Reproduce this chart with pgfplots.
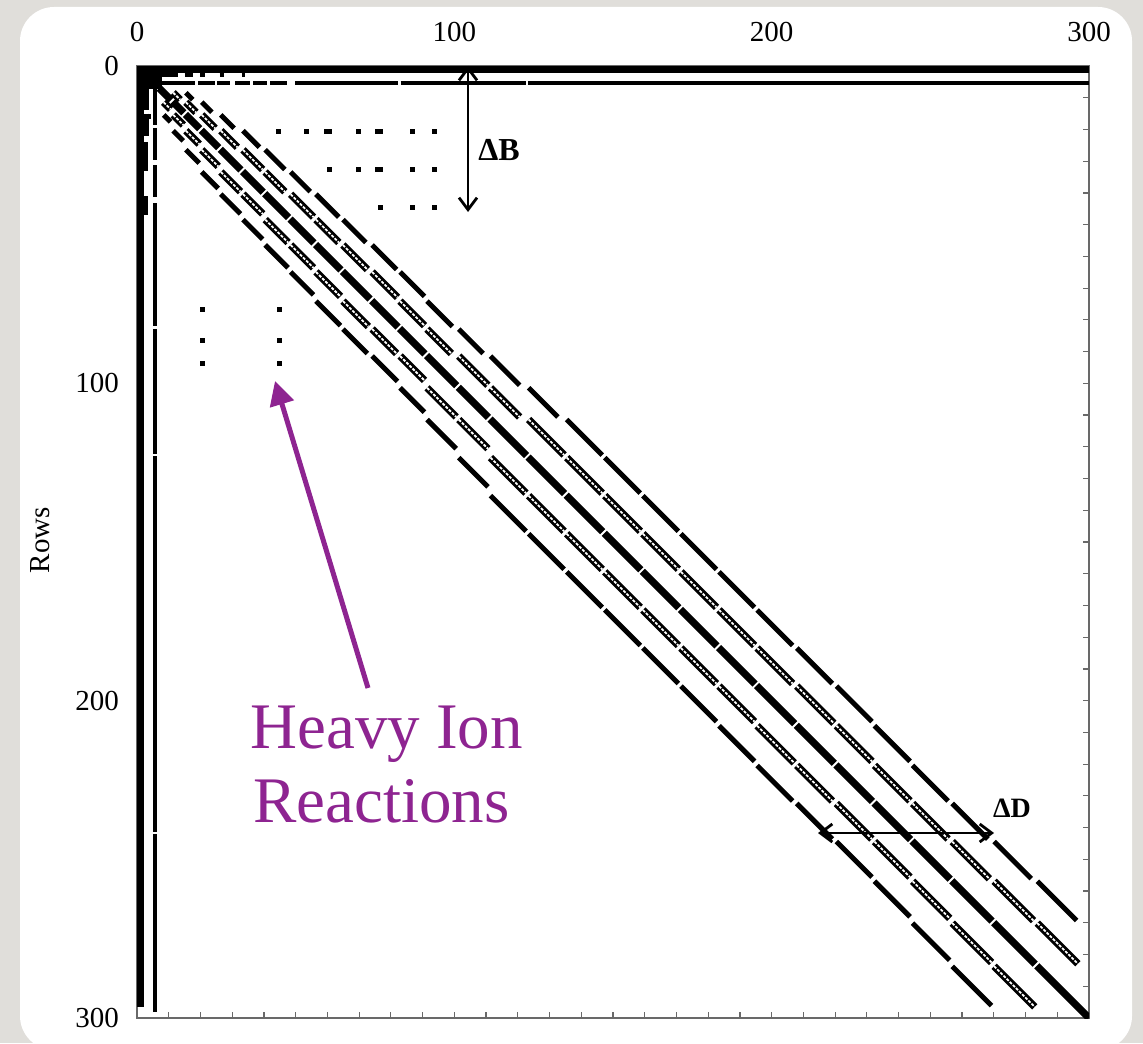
\documentclass[border=0pt]{standalone}
\usepackage{fontspec}
\setmainfont{Liberation Serif}
\usepackage{pgfplots}
\pgfplotsset{compat=1.18}
\usepackage{pgfplotstable}
\usetikzlibrary{arrows.meta}
\definecolor{bggray}{RGB}{224,222,218}
\definecolor{ionpurple}{RGB}{142,36,145}
\definecolor{framegray}{RGB}{105,105,105}

% upper off-diagonal blocks (k,k+1): hollow double diagonal
\pgfplotstableread{
c r
11.4 8.4
13.6 10.6
nan nan
15.4 11.4
18.6 14.6
nan nan
20.4 15.4
24.6 19.6
nan nan
26.4 20.4
31.6 25.6
nan nan
33.4 26.4
39.6 32.6
nan nan
40.4 33.4
46.6 39.6
nan nan
48.4 40.4
55.6 47.6
nan nan
56.4 48.4
63.6 55.6
nan nan
64.9 56.4
72.6 64.1
nan nan
74.1 64.9
82.1 72.9
nan nan
82.9 74.1
90.6 81.8
nan nan
91.4 82.9
99.1 90.6
nan nan
101.4 91.4
110.6 100.6
nan nan
111.4 101.4
120.6 110.6
nan nan
123.4 111.4
134.6 122.6
nan nan
135.4 123.4
146.6 134.6
nan nan
147.4 135.4
158.6 146.6
nan nan
159.4 147.4
170.6 158.6
nan nan
171.4 159.4
182.6 170.6
nan nan
183.4 171.4
194.6 182.6
nan nan
195.4 183.4
206.6 194.6
nan nan
207.9 195.4
219.6 207.1
nan nan
220.4 207.9
231.6 219.1
nan nan
232.4 220.4
243.6 231.6
nan nan
244.4 232.4
255.6 243.6
nan nan
256.9 244.4
268.6 256.1
nan nan
270.1 256.9
282.5 269.3
nan nan
283.7 270.1
296.5 282.9
}\hollowtab

% blocks (k,k+2): solid diagonal
\pgfplotstableread{
c r
15.4 8.4
17.6 10.6
nan nan
20.4 11.4
23.6 14.6
nan nan
26.4 15.4
30.6 19.6
nan nan
33.4 20.4
38.6 25.6
nan nan
40.4 26.4
46.6 32.6
nan nan
48.4 33.4
54.6 39.6
nan nan
56.4 40.4
63.6 47.6
nan nan
64.9 48.4
72.1 55.6
nan nan
74.1 56.4
81.8 64.1
nan nan
82.9 64.9
90.6 72.6
nan nan
91.4 74.1
99.4 82.1
nan nan
101.4 82.9
109.1 90.6
nan nan
111.4 91.4
120.6 100.6
nan nan
123.4 101.4
132.6 110.6
nan nan
135.4 111.4
146.6 122.6
nan nan
147.4 123.4
158.6 134.6
nan nan
159.4 135.4
170.6 146.6
nan nan
171.4 147.4
182.6 158.6
nan nan
183.4 159.4
194.6 170.6
nan nan
195.4 171.4
206.6 182.6
nan nan
207.9 183.4
219.1 194.6
nan nan
220.4 195.4
231.6 206.6
nan nan
232.4 207.9
243.6 219.1
nan nan
244.4 220.4
255.6 231.6
nan nan
256.9 232.4
268.1 243.6
nan nan
270.1 244.4
281.8 256.1
nan nan
283.7 256.9
296.1 269.3
}\solidtab

% diagonal blocks
\pgfplotstableread{
c r
7.0 7.0
10.75 10.75
nan nan
11.25 11.25
14.75 14.75
nan nan
15.25 15.25
19.75 19.75
nan nan
20.25 20.25
25.75 25.75
nan nan
26.25 26.25
32.75 32.75
nan nan
33.25 33.25
39.75 39.75
nan nan
40.25 40.25
47.75 47.75
nan nan
48.25 48.25
55.75 55.75
nan nan
56.25 56.25
64.25 64.25
nan nan
64.75 64.75
73.45 73.45
nan nan
73.95 73.95
82.25 82.25
nan nan
82.75 82.75
90.75 90.75
nan nan
91.25 91.25
100.75 100.75
nan nan
101.25 101.25
110.75 110.75
nan nan
111.25 111.25
122.75 122.75
nan nan
123.25 123.25
134.75 134.75
nan nan
135.25 135.25
146.75 146.75
nan nan
147.25 147.25
158.75 158.75
nan nan
159.25 159.25
170.75 170.75
nan nan
171.25 171.25
182.75 182.75
nan nan
183.25 183.25
194.75 194.75
nan nan
195.25 195.25
207.25 207.25
nan nan
207.75 207.75
219.75 219.75
nan nan
220.25 220.25
231.75 231.75
nan nan
232.25 232.25
243.75 243.75
nan nan
244.25 244.25
256.25 256.25
nan nan
256.75 256.75
269.45 269.45
nan nan
269.95 269.95
283.05 283.05
nan nan
283.55 283.55
300 300
}\maintab

\begin{document}
\begin{tikzpicture}
\path[use as bounding box] (0pt,0pt) rectangle (571.5pt,-521.5pt);
\begin{scope}[x=0.5pt,y=-0.5pt]
\fill[bggray] (0,0) rectangle (1143,1043);
\fill[white, rounded corners=17pt] (20,7) rectangle (1132,1050);
\end{scope}
\begin{axis}[
  at={(68.5pt,-33pt)}, anchor=north west,
  width=476pt, height=476pt, scale only axis,
  xmin=0, xmax=300, ymin=0, ymax=300, y dir=reverse,
  xtick={0,100,200,300}, ytick={0,100,200,300},
  xticklabels={0,100,200,300}, yticklabels={0,100,200,300},
  minor x tick num=9, minor y tick num=9,
  tick align=inside, tick pos=both,
  xticklabel pos=right,
  major tick length=3pt, minor tick length=3pt,
  tick style={framegray, line width=0.6pt},
  axis line style={framegray, line width=0.7pt},
  ticklabel style={font=\fontsize{14.5}{17}\selectfont, text=black},
  xticklabel style={yshift=8.5pt},
  yticklabel style={xshift=-5.5pt},
  unbounded coords=jump,
]
% global rows / columns
\addplot[black, line width=3.4pt] coordinates {(0,1.05) (300,1.05)};
\addplot[black, line width=11.4pt] coordinates {(0,3.6) (8,3.6)};
\addplot[black, line width=1.8pt] coordinates {
 (8,2.9) (13,2.9) (nan,nan) (15,2.9) (17.5,2.9) (nan,nan) (20,2.9) (21.5,2.9) (nan,nan)
 (26,2.9) (27.5,2.9) (nan,nan) (33,2.9) (34,2.9)};
\addplot[black, line width=2.0pt] coordinates {
 (8,5.45) (18.3,5.45) (nan,nan) (19.3,5.45) (24.6,5.45) (nan,nan)
 (25.3,5.45) (29.3,5.45) (nan,nan) (31,5.45) (35.6,5.45) (nan,nan)
 (36.6,5.45) (41,5.45) (nan,nan) (42,5.45) (47.3,5.45) (nan,nan)
 (49.8,5.45) (82.3,5.45) (nan,nan) (83.1,5.45) (122.5,5.45) (nan,nan)
 (123.2,5.45) (300,5.45)};
\addplot[black, line width=3.65pt] coordinates {(1.15,0) (1.15,296.5)};
\addplot[black, line width=6pt] coordinates {(1.9,7) (1.9,14) (nan,nan) (1.9,15) (1.9,22) (nan,nan) (1.6,24) (1.6,33) (nan,nan) (1.6,41) (1.6,47)};
\addplot[black, line width=2.1pt] coordinates {
 (5.65,6) (5.65,18.6) (nan,nan) (5.65,19.5) (5.65,29.6) (nan,nan)
 (5.65,31.2) (5.65,41.3) (nan,nan) (5.65,43.2) (5.65,82) (nan,nan)
 (5.65,82.8) (5.65,122.3) (nan,nan) (5.65,123) (5.65,241.3) (nan,nan)
 (5.65,242) (5.65,298)};
% band structure
\addplot[black, line width=3.7pt] table[x=c, y=r] {\maintab};
\addplot[black, line width=2.5pt] table[x=c, y=r] {\solidtab};
\addplot[black, line width=2.5pt] table[x=r, y=c] {\solidtab};
\addplot[black, line width=3.7pt] table[x=c, y=r] {\hollowtab};
\addplot[black, line width=3.7pt] table[x=r, y=c] {\hollowtab};
\addplot[white, line width=0.9pt, dash pattern=on 1.5pt off 0.7pt] table[x=c, y=r] {\hollowtab};
\addplot[white, line width=0.9pt, dash pattern=on 1.5pt off 0.7pt] table[x=r, y=c] {\hollowtab};
% isolated heavy-ion couplings
\addplot[only marks, mark=square*, mark size=1pt, black] coordinates {
 (44.7,20.5) (53.5,20.5) (59.7,20.5) (60.7,20.5) (69.7,20.5) (75.8,20.5) (76.8,20.5) (86.8,20.5) (93.7,20.5)
 (60.6,32.6) (69.7,32.6) (75.8,32.6) (76.8,32.6) (86.8,32.6) (93.7,32.6)
 (76.8,44.5) (86.8,44.5) (93.7,44.5)
 (20.7,76.6) (44.8,76.6) (20.7,86.6) (44.8,86.6) (20.7,93.7) (44.8,93.7)
 (3.5,16)};
\end{axis}
\begin{scope}[x=0.5pt,y=-0.5pt]
\node[rotate=90, font=\fontsize{14.5}{17}\selectfont] at (40,540) {Rows};
\draw[line width=1.4pt, {Straight Barb[length=6pt,width=9pt]}-{Straight Barb[length=6pt,width=9pt]}] (468,66) -- (468,212);
\node[font=\bfseries\fontsize{16}{19}\selectfont] at (499,150) {ΔB};
\draw[line width=1.4pt, {Straight Barb[length=6pt,width=9pt]}-{Straight Barb[length=6pt,width=9pt]}] (818,833) -- (994,833);
\node[font=\bfseries\fontsize{14}{17}\selectfont] at (1012,808) {ΔD};
\draw[ionpurple, line width=2.5pt, -{Triangle[length=12pt,width=12pt]}] (368,688) -- (275,381);
\node[anchor=base west, inner sep=0pt, text=ionpurple, font=\fontsize{32.5}{38}\selectfont] at (250,748) {Heavy Ion};
\node[anchor=base west, inner sep=0pt, text=ionpurple, font=\fontsize{32.5}{38}\selectfont] at (253,822) {Reactions};
\end{scope}
\end{tikzpicture}
\end{document}
